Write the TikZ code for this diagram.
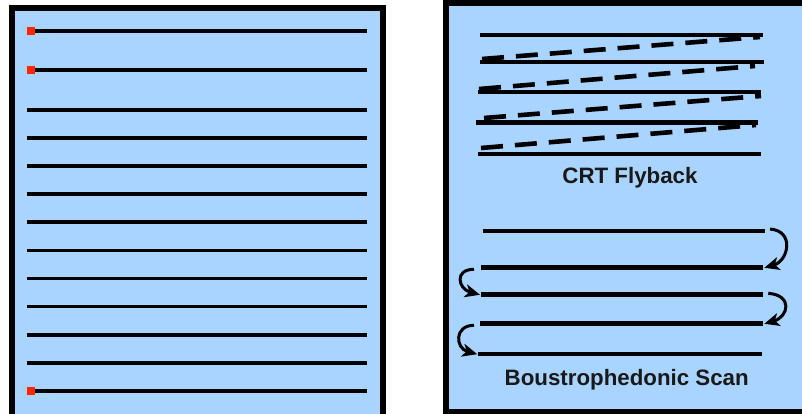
\documentclass[tikz,border=0pt]{standalone}
\usepackage{fontspec}
\setmainfont{Liberation Sans}
\usetikzlibrary{arrows.meta}
\definecolor{panelblue}{RGB}{168,212,255}
\definecolor{marker}{RGB}{255,38,0}
\tikzset{
  panel/.style={draw=black, fill=panelblue, line width=6pt},
  scanline/.style={draw=black, line width=3.8pt},
  rline/.style={draw=black, line width=4.4pt},
  flyback/.style={draw=black, line width=4.6pt, dash pattern=on 22pt off 12pt},
  turn/.style={draw=black, line width=3pt, -{Stealth[length=15pt,width=13pt,inset=4pt]}},
  mark sq/.style={fill=marker, draw=none, minimum size=8pt, inner sep=0pt},
  caption/.style={font=\fontsize{22.3}{26}\selectfont\bfseries, text=black!90, inner sep=0pt, anchor=base}
}
\begin{document}
\begin{tikzpicture}[x=1pt,y=-1pt]
\useasboundingbox (0,0) rectangle (802,414);
\clip (0,0) rectangle (802,414);
% left panel
\path[panel] (12,8.5) rectangle (382.5,440);
\foreach \yy in {30.7,70,110,138.1,166.1,194.2,222.3,250.4,278.4,306.5,334.6,362.6,390.7}
  \draw[scanline] (27,\yy) -- (367,\yy);
\node[mark sq] (m1) at (31,30.7) {};
\node[mark sq] (m2) at (31,70) {};
\node[mark sq] (m3) at (31,390.7) {};
% right panel
\path[panel] (445.5,3) rectangle (830,411.5);
% CRT flyback
\coordinate (a1l) at (480,35);    \coordinate (a1r) at (762.7,35);
\coordinate (a2l) at (480,62.3);  \coordinate (a2r) at (764,62.3);
\coordinate (a3l) at (478.3,92.3);\coordinate (a3r) at (760.7,92.3);
\coordinate (a4l) at (476,122.7); \coordinate (a4r) at (758.3,122.7);
\coordinate (a5l) at (478.3,154); \coordinate (a5r) at (760.7,154);
\foreach \i in {1,...,5} \draw[rline] (a\i l) -- (a\i r);
\draw[flyback] (482,59) -- (760,37);
\draw[flyback] (479,89) -- (755,66);
\draw[flyback] (484,118) -- (761,96);
\draw[flyback] (481,148) -- (756,125);
\node[caption] (crt) at (630,183) {CRT Flyback};
% Boustrophedonic
\coordinate (b1l) at (483.3,231);   \coordinate (b1r) at (765,231);
\coordinate (b2l) at (481,267.3);   \coordinate (b2r) at (763.3,267.3);
\coordinate (b3l) at (481,294.3);   \coordinate (b3r) at (763.3,294.3);
\coordinate (b4l) at (480,323.3);   \coordinate (b4r) at (763.3,323.3);
\coordinate (b5l) at (478.3,353.7); \coordinate (b5r) at (761.7,353.7);
\foreach \i in {1,...,5} \draw[rline] (b\i l) -- (b\i r);
\draw[turn] ([xshift=5pt,yshift=2pt]b1r) .. controls +(25,2) and +(24,-7) .. ([xshift=1pt,yshift=-0.5pt]b2r);
\draw[turn] ([xshift=5pt,yshift=1pt]b3r) .. controls +(25,2) and +(24,-7) .. ([xshift=1pt,yshift=-0.5pt]b4r);
\draw[turn] ([xshift=-7pt,yshift=-2pt]b2l) .. controls +(-20,0) and +(-22,-6) .. ([xshift=-1pt,yshift=-0.5pt]b3l);
\draw[turn] ([xshift=-6pt,yshift=-2pt]b4l) .. controls +(-20,0) and +(-22,-6) .. ([xshift=-1pt,yshift=-0.5pt]b5l);
\node[caption] (bou) at (626.7,385) {Boustrophedonic Scan};
\end{tikzpicture}
\end{document}
